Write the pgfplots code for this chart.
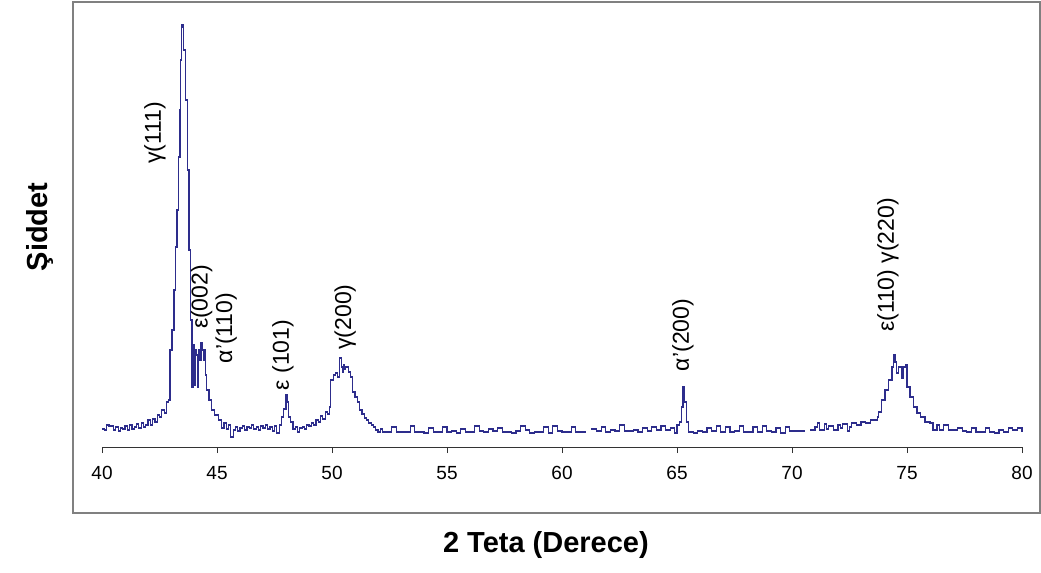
\documentclass[border=0pt]{standalone}
\usepackage{pgfplots}
\pgfplotsset{compat=1.18}
\usepackage{fontspec}
\setmainfont{Liberation Sans}
\definecolor{trace}{RGB}{45,45,140}
\definecolor{frame}{RGB}{128,128,128}

\begin{document}
\begin{tikzpicture}
\begin{axis}[
    x=11.5pt, y=0.5pt,
    xmin=40, xmax=80, ymin=0, ymax=445,
    axis x line=bottom, axis y line=none,
    axis line style={-, black!80, line width=0.5pt},
    xtick={40,45,...,80},
    tick align=outside,
    major tick length=3pt,
    tick style={black!80, line width=0.5pt},
    xticklabel style={font=\fontsize{9.5}{11}\selectfont, yshift=-3pt},
    /pgf/number format/assume math mode=true,
    clip=false,
    const plot,
]
\coordinate (BL) at (axis cs:35.565,-125);
\coordinate (TR) at (axis cs:80.826,447);
\draw[frame, line width=1pt] (axis cs:38.739,445) rectangle (axis cs:80.76,-66);

\addplot[trace, line width=0.6pt] coordinates {
(40.0,18)(40.1,17)(40.2,22)(40.3,21)(40.4,21)(40.5,17)(40.6,20)(40.7,16)(40.8,19)(40.9,18)
(41.0,21)(41.1,17)(41.2,22)(41.3,18)(41.4,20)(41.5,23)(41.6,19)(41.7,24)(41.8,20)(41.9,22)
(42.0,27)(42.1,22)(42.2,28)(42.3,25)(42.4,32)(42.5,30)(42.6,37)(42.7,34)(42.8,45)(42.9,47)
(42.96,97)(43.04,117)(43.13,157)(43.2,200)(43.26,237)(43.33,290)(43.39,337)(43.43,387)
(43.47,422)(43.52,420)(43.56,397)(43.64,347)(43.7,277)(43.78,197)(43.86,127)(43.91,60)
(43.96,102)(44.0,62)(44.05,97)(44.1,92)(44.15,60)(44.2,97)(44.25,87)(44.3,104)(44.35,97)
(44.4,87)(44.45,97)(44.5,72)(44.55,57)(44.65,47)(44.75,37)(44.9,32)(45.05,27)(45.2,19)
(45.3,24)(45.4,18)(45.5,22)(45.6,10)(45.7,17)(45.8,20)(45.9,16)(46.0,19)(46.1,21)(46.2,17)
(46.3,20)(46.4,19)(46.5,22)(46.6,18)(46.7,20)(46.8,17)(46.9,21)(47.0,19)(47.1,22)(47.2,18)
(47.3,20)(47.4,16)(47.5,21)(47.6,14)(47.7,22)(47.8,30)(47.9,38)(48.0,52)(48.05,45)(48.1,30)
(48.2,25)(48.3,18)(48.4,20)(48.5,15)(48.6,19)(48.7,20)(48.8,18)(48.9,22)(49.0,21)(49.1,24)
(49.2,22)(49.3,27)(49.4,25)(49.5,31)(49.6,28)(49.7,35)(49.8,33)(49.9,40)(49.95,67)(50.05,72)
(50.15,74)(50.25,70)(50.33,89)(50.4,80)(50.45,75)(50.5,82)(50.55,78)(50.6,80)(50.7,75)
(50.8,70)(50.9,55)(51.0,50)(51.1,45)(51.2,37)(51.3,33)(51.4,29)(51.5,27)(51.6,24)(51.7,22)
(51.8,20)(51.9,17)(52.0,15)(52.1,18)(52.2,15)(52.4,15)(52.6,20)(52.8,15)(53.0,15)(53.2,15)
(53.4,21)(53.6,15)(53.8,15)(54.0,14)(54.2,19)(54.4,15)(54.6,15)(54.8,20)(55.0,15)(55.2,16)
(55.4,14)(55.6,18)(55.8,15)(56.0,15)(56.2,21)(56.4,16)(56.6,15)(56.8,18)(57.0,16)(57.2,19)
(57.4,15)(57.6,15)(57.8,14)(58.0,16)(58.2,21)(58.4,17)(58.6,14)(58.8,15)(59.0,15)(59.2,20)
(59.4,14)(59.6,21)(59.8,16)(60.0,15)(60.2,15)(60.4,20)(60.6,15)(60.8,15)(61.05,15)
};
\addplot[trace, line width=0.6pt] coordinates {
(61.25,18)(61.5,16)(61.7,20)(61.9,15)(62.1,17)(62.3,16)(62.5,22)(62.7,16)(62.9,16)(63.1,17)
(63.3,15)(63.5,19)(63.7,16)(63.9,20)(64.1,17)(64.3,21)(64.5,17)(64.7,19)(64.9,14)(65.0,22)
(65.1,25)(65.2,40)(65.26,60)(65.32,45)(65.4,25)(65.5,15)(65.7,14)(65.9,16)(66.1,15)(66.3,19)
(66.5,16)(66.7,21)(66.9,15)(67.1,20)(67.3,15)(67.5,16)(67.7,21)(67.9,15)(68.1,15)(68.3,20)
(68.5,15)(68.7,21)(68.9,16)(69.1,15)(69.3,19)(69.5,14)(69.7,20)(69.9,16)(70.1,16)(70.3,16)
(70.55,16)
};
\addplot[trace, line width=0.6pt] coordinates {
(70.8,17)(71.0,20)(71.1,24)(71.2,17)(71.4,23)(71.5,18)(71.6,21)(71.8,17)(72.0,22)(72.1,19)
(72.2,23)(72.4,16)(72.5,20)(72.6,24)(72.8,22)(73.0,25)(73.2,24)(73.4,27)(73.6,27)(73.7,30)
(73.75,35)(73.9,47)(74.04,57)(74.2,67)(74.35,80)(74.4,92)(74.48,85)(74.56,74)(74.62,80)
(74.7,80)(74.78,69)(74.84,80)(74.96,82)(75.0,60)(75.13,50)(75.27,40)(75.43,34)(75.57,30)
(75.78,25)(76.0,24)(76.13,17)(76.3,22)(76.4,17)(76.6,22)(76.8,17)(77.0,17)(77.2,19)(77.4,16)
(77.6,15)(77.8,19)(78.0,15)(78.2,15)(78.4,19)(78.6,15)(78.8,14)(79.0,17)(79.2,15)(79.4,19)
(79.6,17)(79.8,19)(80.0,15)
};

\begin{scope}[font=\fontsize{11.5}{13}\selectfont]
\node[rotate=90] at (axis cs:42.30,314) {γ(111)};
\node[rotate=90] at (axis cs:44.33,150) {ε(002)};
\node[rotate=90] at (axis cs:45.40,119) {α'(110)};
\node[rotate=90] at (axis cs:47.87,92) {ε (101)};
\node[rotate=90] at (axis cs:50.57,130) {γ(200)};
\node[rotate=90] at (axis cs:65.26,112) {α'(200)};
\node[rotate=90] at (axis cs:74.17,182) {ε(110) γ(220)};
\end{scope}
\node[rotate=90, font=\bfseries\fontsize{14.5}{17}\selectfont] at (axis cs:37.30,220) {Şiddet};
\node[font=\bfseries\fontsize{14.5}{17}\selectfont] at (axis cs:59.30,-98) {2 Teta (Derece)};
\end{axis}
\pgfresetboundingbox
\useasboundingbox (BL) rectangle (TR);
\end{tikzpicture}
\end{document}
